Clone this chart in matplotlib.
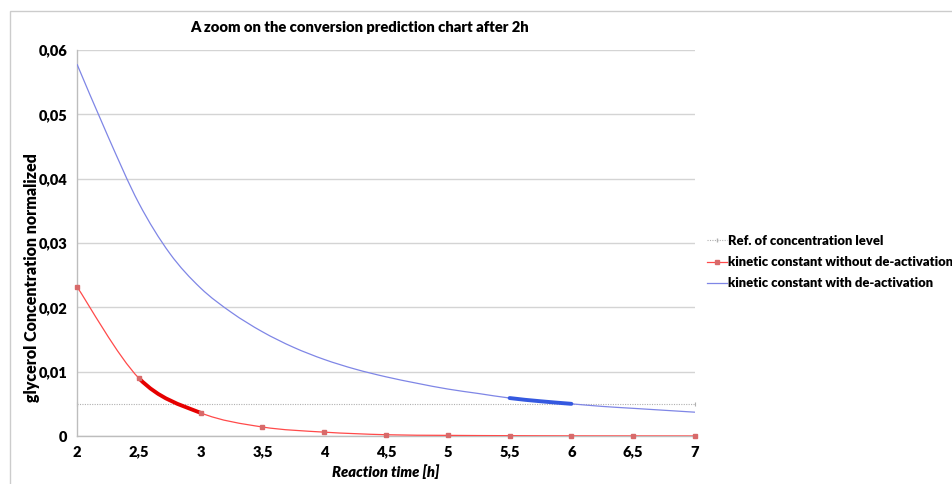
import numpy as np
import matplotlib
matplotlib.use("Agg")
import matplotlib.pyplot as plt
from matplotlib.path import Path
from matplotlib.patches import PathPatch, Rectangle
from matplotlib.lines import Line2D

plt.rcParams['font.family'] = ['Lato', 'DejaVu Sans']

# reaction time [h] and normalized glycerol concentration
t_red = [2, 2.5, 3, 3.5, 4, 4.5, 5, 5.5, 6, 6.5, 7]
c_red = [0.0232, 0.0090, 0.0036, 0.0014, 0.0006, 0.0002, 0.0001, 0.00005, 0.00002, 0.00001, 0.0]

t_blue = [2, 2.25, 2.5, 2.75, 3, 3.25, 3.5, 3.75, 4, 4.25, 4.5, 4.75,
          5, 5.25, 5.5, 5.75, 6, 6.25, 6.5, 6.75, 7]
c_blue = [0.0578, 0.0466, 0.0362, 0.0284, 0.0230, 0.0192, 0.0162, 0.0138, 0.0119, 0.0104, 0.0092, 0.0082,
          0.0073, 0.0066, 0.0059, 0.0054, 0.0050, 0.0046, 0.0043, 0.0040, 0.0037]

t_ref = [2, 7]
c_ref = [0.005, 0.005]

# stretches drawn with a heavier line
red_bold = (2.5, 3)
blue_bold = (5.5, 6)

xticks = [2, 2.5, 3, 3.5, 4, 4.5, 5, 5.5, 6, 6.5, 7]
yticks = [0, 0.01, 0.02, 0.03, 0.04, 0.05, 0.06]


def smooth_path(x, y, i0=0, i1=None):
    # bezier smoothing between points i0..i1, like a "smoothed line" in a spreadsheet
    x = np.asarray(x, float)
    y = np.asarray(y, float)
    n = len(x)
    if i1 is None:
        i1 = n - 1
    verts = [(x[i0], y[i0])]
    codes = [Path.MOVETO]
    for i in range(i0, i1):
        p0 = np.array([x[max(i - 1, 0)], y[max(i - 1, 0)]])
        p1 = np.array([x[i], y[i]])
        p2 = np.array([x[i + 1], y[i + 1]])
        p3 = np.array([x[min(i + 2, n - 1)], y[min(i + 2, n - 1)]])
        c1 = p1 + (p2 - p0) / 6
        c2 = p2 - (p3 - p1) / 6
        verts += [tuple(c1), tuple(c2), tuple(p2)]
        codes += [Path.CURVE4] * 3
    return Path(verts, codes)


fig = plt.figure(figsize=(9.52, 4.84), dpi=100)
ax = fig.add_axes([77 / 952, 48 / 484, 618 / 952, 386 / 484])

# outer chart frame
fig.patches.append(Rectangle((10 / 952, -0.1), 1.0, 1.1 - 11 / 484, transform=fig.transFigure,
                             fill=False, edgecolor='#cccccc', linewidth=1.0))

ax.set_xlim(2, 7)
ax.set_ylim(0, 0.06)
ax.set_xticks(xticks)
ax.set_yticks(yticks)
ax.set_xticklabels([f'{v:g}'.replace('.', ',') for v in xticks])
ax.set_yticklabels(['0'] + [f'{v:.2f}'.replace('.', ',') for v in yticks[1:]])
ax.tick_params(length=0, labelsize=10.5, pad=7)
for lab in ax.get_xticklabels() + ax.get_yticklabels():
    lab.set_fontweight('heavy')
ax.grid(axis='y', color='#d4d4d4', linewidth=1.0)
ax.set_axisbelow(True)
for s in ['top', 'right']:
    ax.spines[s].set_visible(False)
for s in ['left', 'bottom']:
    ax.spines[s].set_color('#bdbdbd')
    ax.spines[s].set_linewidth(1.0)

# reference level
ax.plot(t_ref, c_ref, color='#b0b0b0', linewidth=0.8, linestyle=(0, (1, 1.2)),
        marker='|', markersize=3, markeredgewidth=0.8, clip_on=False, zorder=2)

# without de-activation
ax.add_patch(PathPatch(smooth_path(t_red, c_red), fill=False, edgecolor='#ff4a4a', linewidth=0.9, zorder=3))
a = t_red.index(red_bold[0])
b = t_red.index(red_bold[1])
ax.add_patch(PathPatch(smooth_path(t_red, c_red, a, b), fill=False, edgecolor='#e60000',
                       linewidth=2.8, capstyle='round', zorder=4))
ax.plot(t_red, c_red, linestyle='none', marker='s', markersize=2.6, color='#d86a6a',
        clip_on=False, zorder=5)

# with de-activation
ax.add_patch(PathPatch(smooth_path(t_blue, c_blue), fill=False, edgecolor='#7f86e6', linewidth=0.9, zorder=3))
a = t_blue.index(blue_bold[0])
b = t_blue.index(blue_bold[1])
ax.add_patch(PathPatch(smooth_path(t_blue, c_blue, a, b), fill=False, edgecolor='#3559e0',
                       linewidth=2.8, capstyle='round', zorder=4))

fig.text(360 / 952, 1 - 27 / 484, 'A zoom on the conversion prediction chart after 2h',
         ha='center', va='center', fontsize=10.6, fontweight='heavy')
fig.text(386 / 952, 1 - 472 / 484, 'Reaction time [h]', ha='center', va='center',
         fontsize=10.6, fontweight='heavy', fontstyle='italic')
fig.text(32 / 952, 1 - 278 / 484, 'glycerol Concentration normalized', ha='center', va='center',
         rotation=90, fontsize=11.5, fontweight='heavy')

handles = [
    Line2D([], [], color='#b0b0b0', linewidth=0.8, linestyle=(0, (1, 1.2)), marker='|', markersize=3),
    Line2D([], [], color='#ff4a4a', linewidth=0.9, marker='s', markersize=2.6, markerfacecolor='#d86a6a',
           markeredgecolor='#d86a6a'),
    Line2D([], [], color='#7f86e6', linewidth=0.9),
]
labels = ['Ref. of concentration level', 'kinetic constant without de-activation',
          'kinetic constant with de-activation']
leg = fig.legend(handles, labels, loc='upper left', bbox_to_anchor=(707 / 952, 1 - 235 / 484),
                 frameon=False, fontsize=9.4, handlelength=1.5, handletextpad=0.1,
                 labelspacing=0.7, borderaxespad=0, borderpad=0)
for txt in leg.get_texts():
    txt.set_fontweight('heavy')

fig.savefig('out.png', dpi=100)
